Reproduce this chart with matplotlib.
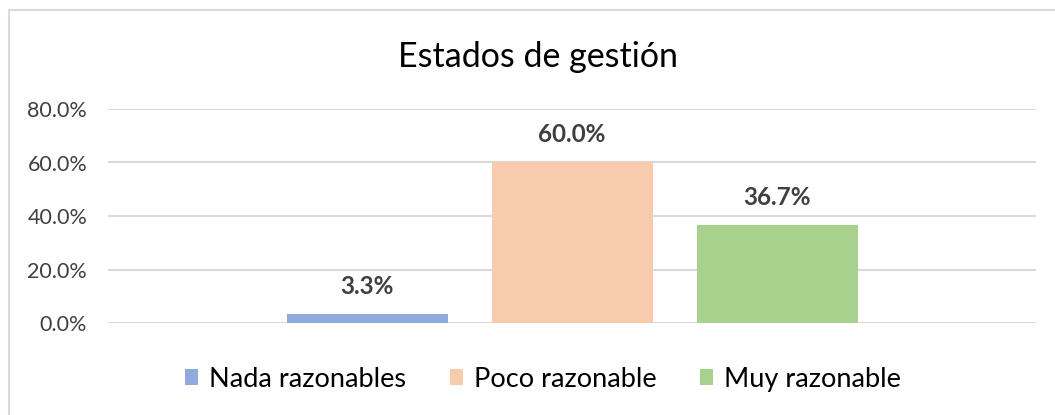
import numpy as np
import matplotlib.pyplot as plt
from matplotlib.patches import Rectangle

# data
series = ["Nada razonables", "Poco razonable", "Muy razonable"]
values = [0.033, 0.60, 0.367]
colors = ["#8faadc", "#f8cbad", "#a9d18e"]
y_ticks = [0.0, 0.2, 0.4, 0.6, 0.8]

plt.rcParams["font.family"] = ["Lato", "DejaVu Sans"]

W, H = 1055, 415
fig = plt.figure(figsize=(W / 100, H / 100), dpi=100)
fig.patches.append(Rectangle((9 / W, -0.1), 1.2, (H - 10) / H + 0.1, transform=fig.transFigure,
                             fill=False, edgecolor="#d9d9d9", linewidth=1.5))

ax = fig.add_axes([108 / W, (H - 323) / H, (1036 - 108) / W, (323 - 109) / H])

pitch = 1.0
width = 161 / 205
x = (np.arange(len(values)) - 1) * pitch
bars = ax.bar(x, values, width=width, color=colors, label=series, zorder=2)

half = 928 / 2 / 205
ax.set_xlim(-half, half)
ax.set_ylim(0, 0.8)
ax.set_yticks(y_ticks)
ax.set_yticklabels([f"{v * 100:.1f}%" for v in y_ticks], fontsize=15.5, color="#404040")
ax.set_xticks([])
ax.tick_params(axis="y", length=0, pad=15)
ax.grid(axis="y", color="#d9d9d9", linewidth=1.5, zorder=0)
for s in ax.spines.values():
    s.set_visible(False)

for b, v in zip(bars, values):
    ax.annotate(f"{v * 100:.1f}%", (b.get_x() + b.get_width() / 2, v),
                xytext=(0, 20), textcoords="offset points", ha="center", va="center",
                fontsize=17.5, fontweight="bold", color="#404040")

fig.text(538 / W, 1 - 57 / H, "Estados de gestión", ha="center", va="center",
         fontsize=24.5, color="#000000")

fig.legend(handles=bars, labels=series, loc="center", bbox_to_anchor=(543 / W, 1 - 379 / H),
           ncol=3, frameon=False, fontsize=19.5, handlelength=0.5, handleheight=0.5,
           handletextpad=0.4, columnspacing=1.6)

fig.savefig("out.png", dpi=100)
